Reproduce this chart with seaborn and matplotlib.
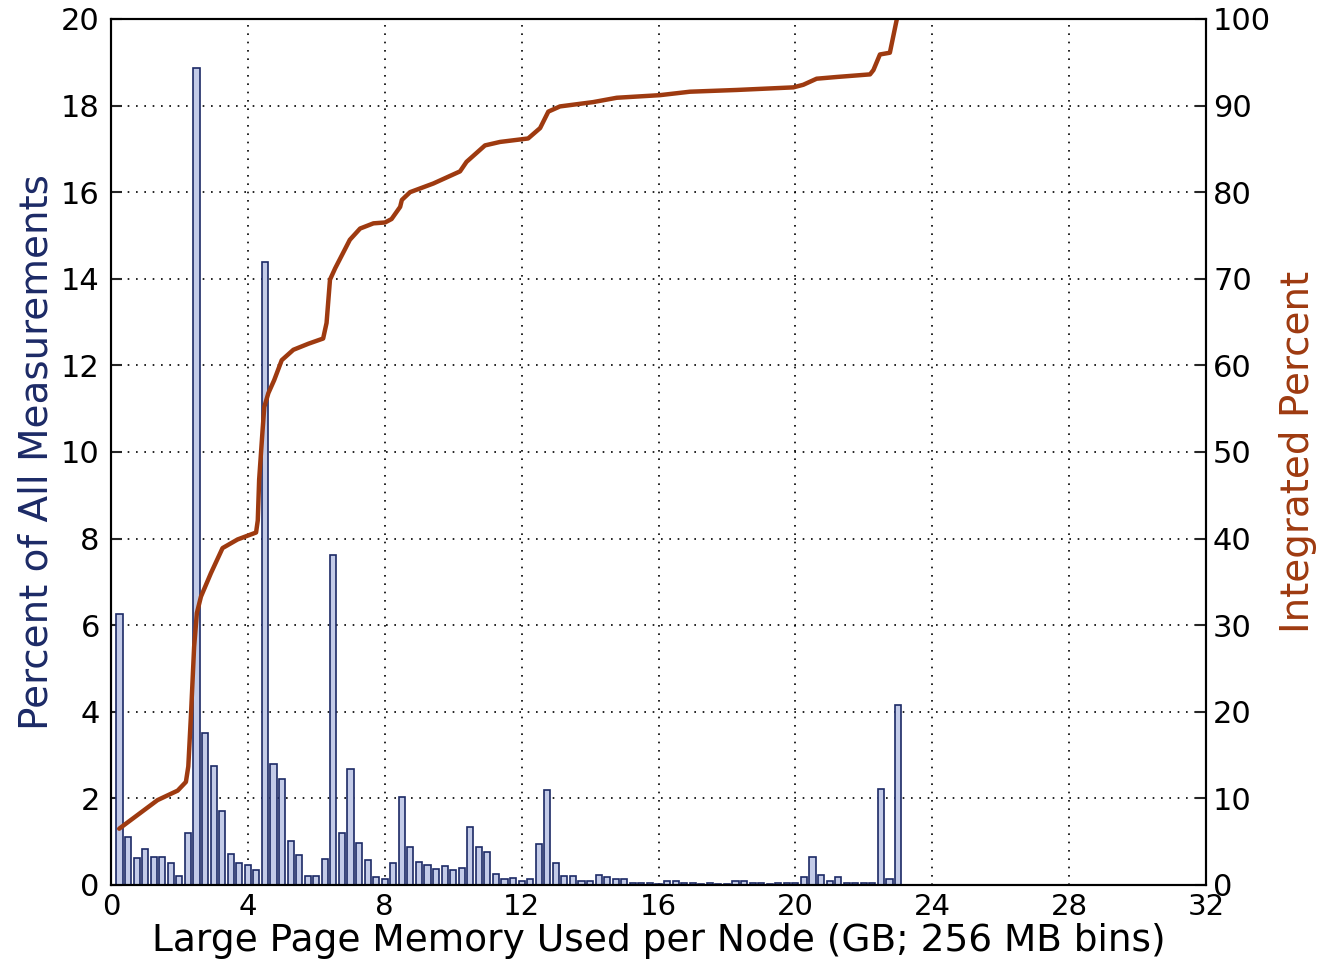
import numpy as np
import pandas as pd
import seaborn as sns
from matplotlib import pyplot as plt

# histogram: bin centres (GB) and percent of all measurements
bin_gb = [0.25 * k for k in range(1, 93)]
pct = [6.26, 1.10, 0.62, 0.84, 0.65, 0.65, 0.50, 0.21, 1.20, 18.87,
       3.52, 2.74, 1.72, 0.72, 0.50, 0.47, 0.35, 14.39, 2.79, 2.45,
       1.02, 0.69, 0.21, 0.21, 0.61, 7.62, 1.20, 2.67, 0.98, 0.58,
       0.18, 0.14, 0.50, 2.04, 0.87, 0.53, 0.47, 0.38, 0.43, 0.35,
       0.39, 1.35, 0.87, 0.76, 0.25, 0.13, 0.17, 0.10, 0.13, 0.95,
       2.19, 0.50, 0.21, 0.21, 0.09, 0.09, 0.23, 0.19, 0.13, 0.13,
       0.05, 0.05, 0.05, 0.03, 0.10, 0.10, 0.05, 0.04, 0.02, 0.05,
       0.02, 0.02, 0.10, 0.10, 0.05, 0.05, 0.02, 0.05, 0.05, 0.05,
       0.18, 0.65, 0.23, 0.10, 0.18, 0.05, 0.05, 0.05, 0.05, 2.22,
       0.13, 4.16]

# integrated percent curve
cum_gb = [0.24, 1.36, 1.95, 2.19, 2.26, 2.34, 2.43, 2.51, 2.63, 2.92,
          3.26, 3.70, 4.24, 4.29, 4.33, 4.43, 4.48, 4.60, 4.77, 4.99,
          5.33, 5.77, 6.20, 6.30, 6.40, 6.55, 6.98, 7.28, 7.67, 8.01,
          8.20, 8.45, 8.50, 8.74, 9.42, 10.20, 10.39, 10.93, 11.37, 12.19,
          12.54, 12.78, 13.12, 14.09, 14.78, 16.04, 16.92, 18.28, 19.94, 20.23,
          20.62, 21.21, 22.18, 22.28, 22.47, 22.76, 22.96, 23.02]
cum_pct = [6.5, 9.8, 10.9, 11.9, 13.7, 19.8, 27.5, 31.4, 33.3, 36.0,
           38.9, 39.9, 40.7, 42.1, 46.8, 52.5, 55.2, 56.8, 58.3, 60.6,
           61.8, 62.5, 63.1, 64.9, 69.9, 71.2, 74.5, 75.8, 76.4, 76.5,
           76.9, 78.3, 79.1, 80.0, 81.0, 82.4, 83.5, 85.4, 85.8, 86.2,
           87.4, 89.3, 89.9, 90.4, 90.9, 91.2, 91.6, 91.8, 92.1, 92.4,
           93.1, 93.3, 93.6, 94.1, 95.9, 96.1, 99.9, 100.5]

x_ticks = list(range(0, 33, 4))
left_ticks = list(range(0, 21, 2))
right_ticks = list(range(0, 101, 10))

navy = "#1c2a66"
brown = "#9e3a10"

sns.set_style("white")
plt.rcParams["font.family"] = ["DejaVu Sans"]

fig = plt.figure(figsize=(13.21, 9.67), dpi=100)
ax = fig.add_axes([0.084, 0.0848, 0.829, 0.8956])

hist_df = pd.DataFrame({"gb": bin_gb, "pct": pct})
sns.histplot(data=hist_df, x="gb", weights="pct", binwidth=0.25,
             binrange=(0.125, 23.125), shrink=0.72,
             color="#c3cbe8", edgecolor=navy, linewidth=1.2, alpha=1, ax=ax)

ax.set_xlim(0, 32)
ax.set_ylim(0, 20)
ax.set_xticks(x_ticks)
ax.set_yticks(left_ticks)
ax.grid(True, color="black", linestyle=(0, (1, 4)), linewidth=1.2)
ax.set_axisbelow(True)
ax.tick_params(direction="in", length=8, width=1.5, labelsize=22,
               labelcolor="black")
ax.tick_params(axis="x", pad=6, labelsize=21)
ax.tick_params(axis="y", pad=8)
ax.set_xlabel("Large Page Memory Used per Node (GB; 256 MB bins)",
              fontsize=27, labelpad=1, color="black")
ax.set_ylabel("Percent of All Measurements", fontsize=28, color=navy, labelpad=4)
for s in ax.spines.values():
    s.set_linewidth(1.5)
    s.set_color("black")

ax2 = ax.twinx()
cum_df = pd.DataFrame({"gb": cum_gb, "cum": cum_pct})
sns.lineplot(data=cum_df, x="gb", y="cum", color=brown, linewidth=3.2, ax=ax2)
ax2.set_ylim(0, 100)
ax2.set_yticks(right_ticks)
ax2.set_xlim(0, 32)
ax2.tick_params(direction="in", length=8, width=1.5, labelsize=22,
                labelcolor="black", pad=5)
ax2.set_ylabel("Integrated Percent", fontsize=28, color=brown, labelpad=6)
ax2.grid(False)
for s in ax2.spines.values():
    s.set_linewidth(1.5)
    s.set_color("black")

fig.savefig("out.png", dpi=100)
